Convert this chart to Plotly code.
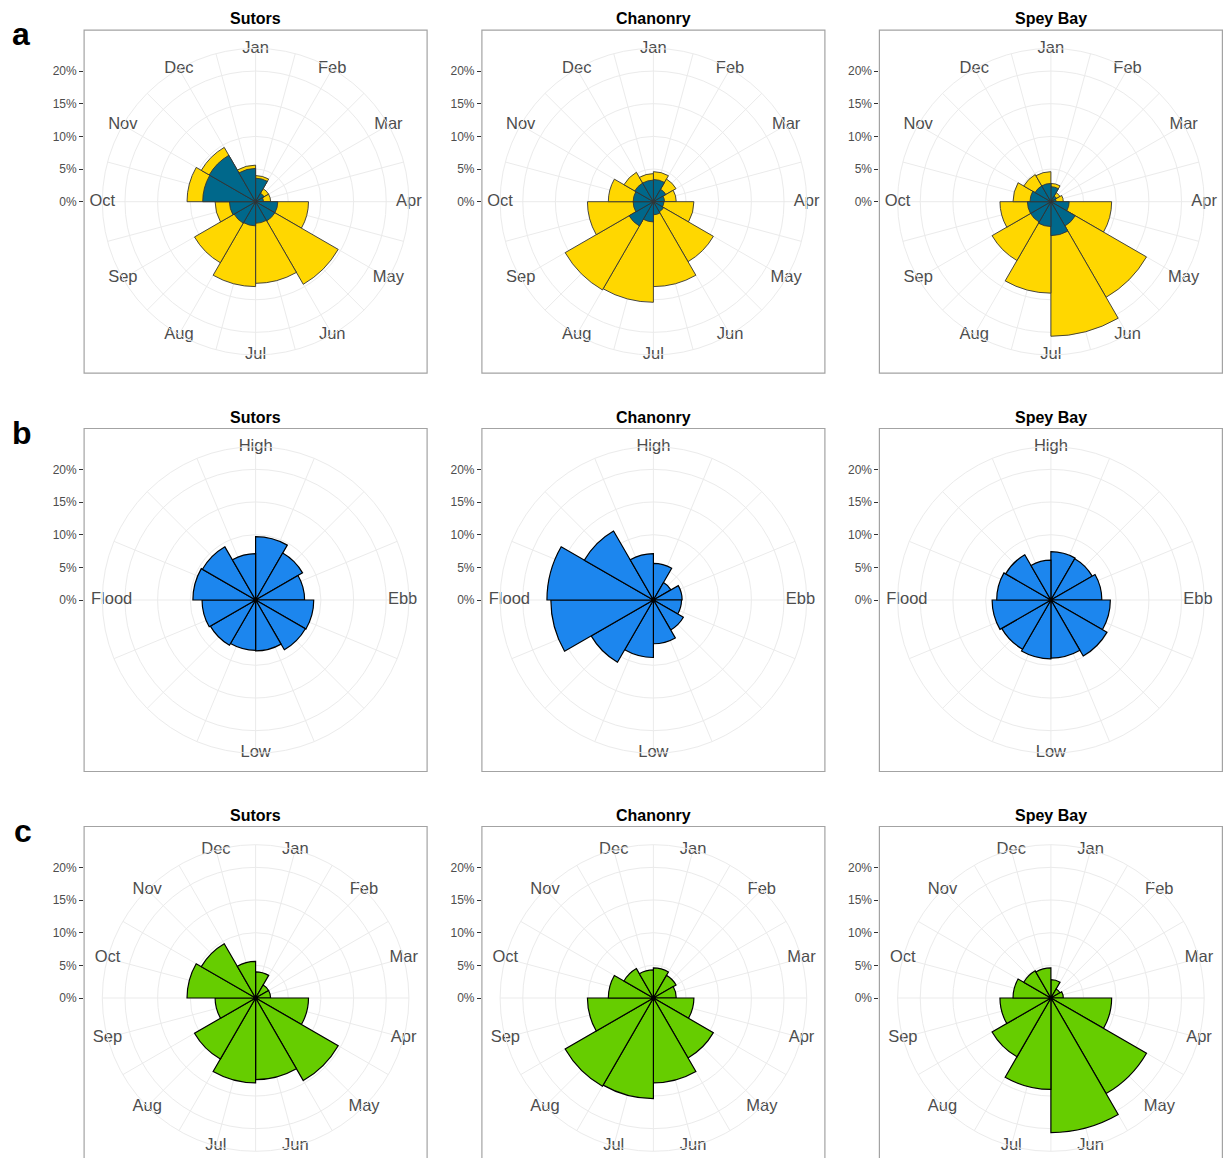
import plotly.graph_objects as go

# page body keeps an 8px margin, so the figure is laid out 8px in from the page edge
PAGE_W, PAGE_H = 1232, 1166
PAD = 8
W, H = PAGE_W - 2 * PAD, PAGE_H - 2 * PAD
FONT = "Liberation Sans, Arial, sans-serif"

# ---------------- data ----------------
sites = ["Sutors", "Chanonry", "Spey Bay"]
row_letters = ["a", "b", "c"]
months = ["Jan", "Feb", "Mar", "Apr", "May", "Jun",
          "Jul", "Aug", "Sep", "Oct", "Nov", "Dec"]
tide_labels = ["High", "Ebb", "Low", "Flood"]
radial_tickvals = [0, 5, 10, 15, 20]
radial_ticktext = ["0%", "5%", "10%", "15%", "20%"]

# row a: monthly bins (bin 1 = Jan..Feb), % of detections
sutors_season_all = [4.0, 2.3, 2.3, 8.1, 14.6, 12.5, 13.0, 10.8, 6.2, 10.5, 9.6, 5.6]
sutors_season_sub = [3.6, 1.5, 1.2, 3.4, 3.4, 3.3, 3.7, 3.8, 4.0, 8.1, 8.2, 5.1]
chanonry_season_all = [4.6, 4.0, 3.5, 6.2, 10.6, 13.0, 15.4, 15.6, 10.1, 6.9, 5.2, 4.3]
chanonry_season_sub = [3.4, 2.2, 1.7, 1.6, 1.8, 2.0, 3.1, 4.3, 3.1, 3.1, 3.3, 3.3]
spey_season_all = [2.8, 1.6, 1.9, 9.3, 16.9, 20.6, 14.0, 10.4, 7.8, 5.8, 4.8, 4.6]
spey_season_sub = [2.3, 1.0, 0.8, 2.8, 4.3, 5.2, 3.8, 3.6, 3.6, 3.2, 2.8, 2.8]

# row b: tidal bins (12 bins clockwise from High water)
sutors_tide = [9.7, 8.3, 7.5, 8.9, 8.8, 7.8, 7.7, 8.0, 8.2, 9.6, 9.4, 7.1]
chanonry_tide = [5.6, 3.1, 4.4, 4.3, 5.3, 6.7, 8.8, 11.0, 15.7, 16.3, 12.2, 7.1]
spey_tide = [7.4, 7.3, 7.8, 9.1, 9.9, 8.9, 9.0, 8.7, 9.0, 8.3, 8.0, 6.1]

# row c: monthly (Jan..Dec)
sutors_month = [4.0, 2.3, 2.3, 8.1, 14.6, 12.5, 13.0, 10.8, 6.2, 10.5, 9.6, 5.6]
chanonry_month = [4.6, 4.0, 3.5, 6.2, 10.6, 13.0, 15.4, 15.6, 10.1, 6.9, 5.2, 4.3]
spey_month = [2.8, 1.6, 1.9, 9.3, 16.9, 20.6, 14.0, 10.4, 7.8, 5.8, 4.8, 4.6]

row_a_all = [sutors_season_all, chanonry_season_all, spey_season_all]
row_a_sub = [sutors_season_sub, chanonry_season_sub, spey_season_sub]
row_b = [sutors_tide, chanonry_tide, spey_tide]
row_c = [sutors_month, chanonry_month, spey_month]

# ---------------- geometry / style (page pixels) ----------------
COL_CX = [255.6, 653.4, 1050.9]
ROW_CY = [201.7, 600.0, 998.0]
LETTER_X = [20.8, 22.0, 23.0]
LETTER_Y = [33.6, 433.0, 830.5]
BOX_HALF = 171.5
R_PX = 153.3
R_MAX = 23.47
PX_PER = R_PX / R_MAX
MONTH_LABEL_PX = 153.3
TIDE_LABEL_PX = [153.3, 147.0, 153.3, 144.0]

GRID = "#EBEBEB"
TXT = "#4D4D4D"
YELLOW, TEAL, BLUE, GREEN = "#FFD700", "#00688B", "#1C86EE", "#66CD00"

n_bins = 12
bin_width = 360 / n_bins
bin_theta = [bin_width * (i + 0.5) for i in range(n_bins)]

fig = go.Figure()
layout = dict(
    width=W, height=H, margin=dict(l=0, r=0, t=0, b=0),
    paper_bgcolor="white", plot_bgcolor="rgba(0,0,0,0)",
    showlegend=False, font=dict(family=FONT, color=TXT),
    annotations=[], shapes=[],
)


def px_x(v):
    return (v - PAD) / W


def px_y(v):
    return 1 - (v - PAD) / H


for r in range(3):
    cy = ROW_CY[r]
    for c in range(3):
        cx = COL_CX[c]
        k = r * 3 + c + 1
        pid = "polar" if k == 1 else f"polar{k}"
        xid = "x" if k == 1 else f"x{k}"
        yid = "y" if k == 1 else f"y{k}"
        xkey = "xaxis" if k == 1 else f"xaxis{k}"
        ykey = "yaxis" if k == 1 else f"yaxis{k}"

        # bars
        if r == 0:
            fig.add_trace(go.Barpolar(r=row_a_all[c], theta=bin_theta, width=bin_width,
                                      marker=dict(color=YELLOW, line=dict(color="#333333", width=0.9)),
                                      subplot=pid, hoverinfo="skip"))
            fig.add_trace(go.Barpolar(r=row_a_sub[c], theta=bin_theta, width=bin_width,
                                      marker=dict(color=TEAL, line=dict(color="#333333", width=0.9)),
                                      subplot=pid, hoverinfo="skip"))
            labels = months
            label_theta = [30 * i for i in range(12)]
            label_r = [MONTH_LABEL_PX / PX_PER] * 12
            grid_theta = [15 * i for i in range(24)]
        elif r == 1:
            fig.add_trace(go.Barpolar(r=row_b[c], theta=bin_theta, width=bin_width,
                                      marker=dict(color=BLUE, line=dict(color="black", width=1.2)),
                                      subplot=pid, hoverinfo="skip"))
            labels = tide_labels
            label_theta = [90 * i for i in range(4)]
            label_r = [p / PX_PER for p in TIDE_LABEL_PX]
            grid_theta = [22.5 * i for i in range(16)]
        else:
            fig.add_trace(go.Barpolar(r=row_c[c], theta=bin_theta, width=bin_width,
                                      marker=dict(color=GREEN, line=dict(color="black", width=1.2)),
                                      subplot=pid, hoverinfo="skip"))
            labels = months
            label_theta = [15 + 30 * i for i in range(12)]
            label_r = [MONTH_LABEL_PX / PX_PER] * 12
            grid_theta = [15 * i for i in range(24)]

        label_r = [min(v, R_MAX) for v in label_r]

        # angular labels around the outer circle
        fig.add_trace(go.Scatterpolar(r=label_r, theta=label_theta, text=labels,
                                      mode="text", textposition="middle center",
                                      textfont=dict(family=FONT, size=16.5, color=TXT),
                                      cliponaxis=False, subplot=pid, hoverinfo="skip"))

        layout[pid] = dict(
            domain=dict(x=[px_x(cx - R_PX), px_x(cx + R_PX)],
                        y=[px_y(cy + R_PX), px_y(cy - R_PX)]),
            bgcolor="rgba(0,0,0,0)", barmode="overlay",
            angularaxis=dict(rotation=90, direction="clockwise", tickvals=grid_theta,
                             showticklabels=False, ticks="", showgrid=True,
                             gridcolor=GRID, gridwidth=1, showline=True,
                             linecolor=GRID, linewidth=1),
            radialaxis=dict(range=[0, R_MAX], tickvals=radial_tickvals[1:],
                            showticklabels=False, ticks="", showline=False,
                            showgrid=True, gridcolor=GRID, gridwidth=1),
        )

        # cartesian axis carrying the radial % scale on the left of the panel box
        top = cy - BOX_HALF
        bot = min(cy + BOX_HALF, PAD + H)
        fig.add_trace(go.Scatter(x=[], y=[], xaxis=xid, yaxis=yid, hoverinfo="skip",
                                 showlegend=False))
        layout[xkey] = dict(domain=[px_x(cx - BOX_HALF), px_x(cx + BOX_HALF)],
                            range=[0, 1], visible=False, fixedrange=True)
        layout[ykey] = dict(anchor=xid, domain=[px_y(bot), px_y(top)],
                            range=[-(bot - cy) / PX_PER, (cy - top) / PX_PER],
                            tickvals=radial_tickvals, ticktext=radial_ticktext,
                            ticks="outside", ticklen=4, tickwidth=1, tickcolor="#333333",
                            tickfont=dict(family=FONT, size=12, color=TXT),
                            showgrid=False, zeroline=False, showline=False, fixedrange=True)

        # panel frame
        layout["shapes"].append(dict(type="rect", xref="paper", yref="paper",
                                     x0=px_x(cx - BOX_HALF), x1=px_x(cx + BOX_HALF),
                                     y0=px_y(cy + BOX_HALF), y1=px_y(cy - BOX_HALF),
                                     line=dict(color="#A3A3A3", width=1.2), layer="above"))
        # panel title
        layout["annotations"].append(dict(text=f"<b>{sites[c]}</b>", xref="paper", yref="paper",
                                          x=px_x(cx), y=px_y(cy - BOX_HALF - 11.5),
                                          xanchor="center", yanchor="middle", showarrow=False,
                                          font=dict(family=FONT, size=16, color="black")))
    # row letter
    layout["annotations"].append(dict(text=f"<b>{row_letters[r]}</b>", xref="paper", yref="paper",
                                      x=px_x(LETTER_X[r]), y=px_y(LETTER_Y[r]),
                                      xanchor="center", yanchor="middle", showarrow=False,
                                      font=dict(family=FONT, size=32, color="black")))

fig.update_layout(**layout)
fig.write_html("out.html")
